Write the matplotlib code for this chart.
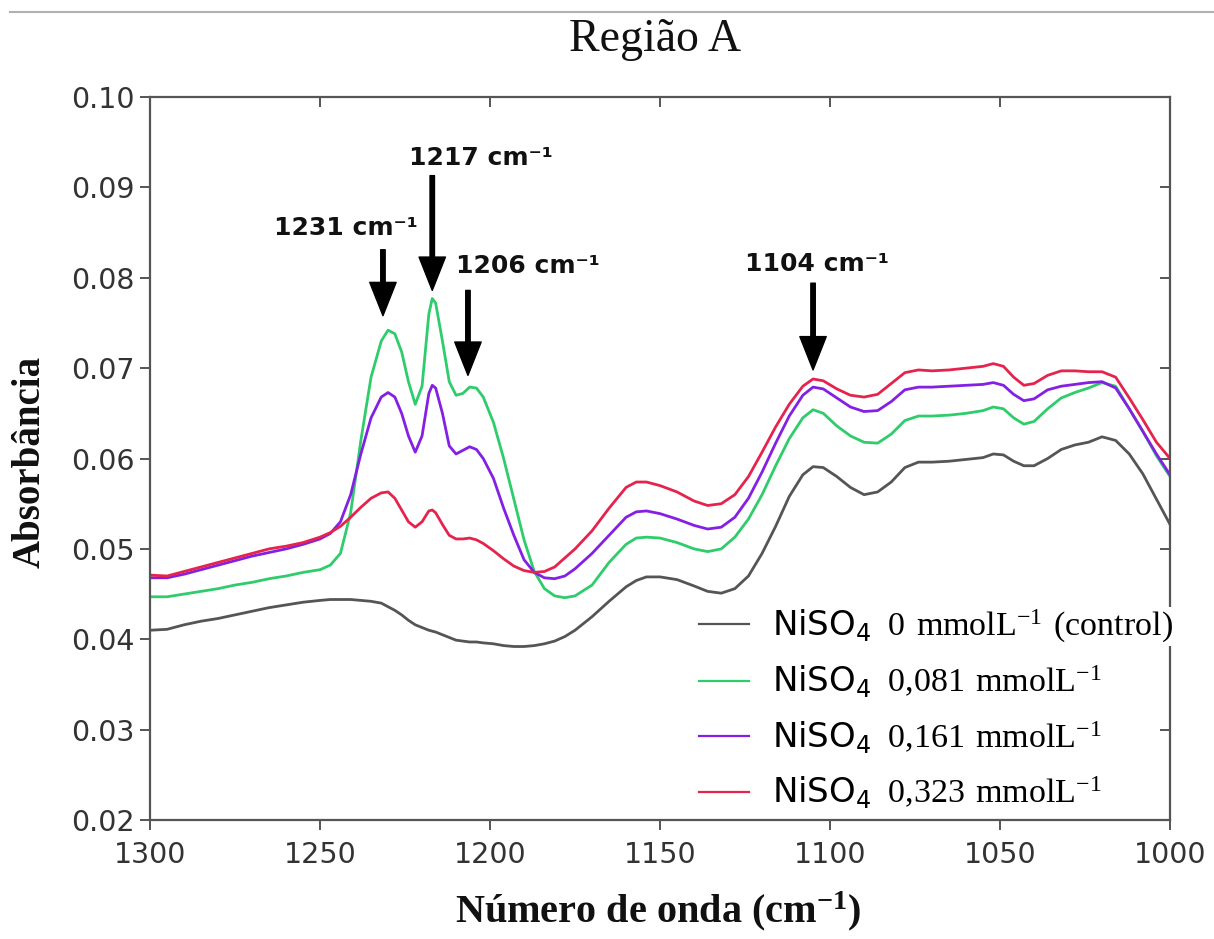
import matplotlib
matplotlib.use("Agg")
import matplotlib.pyplot as plt
from matplotlib.lines import Line2D

plt.rcParams["mathtext.fontset"] = "custom"
plt.rcParams["mathtext.rm"] = "Liberation Serif"
plt.rcParams["mathtext.default"] = "regular"

# wavenumber (cm-1)
wavenumber = [
    1300, 1295, 1290, 1285, 1280, 1275, 1270, 1265, 1260, 1255,
    1250, 1247, 1244, 1241, 1238, 1235, 1232, 1230, 1228, 1226,
    1224, 1222, 1220, 1218, 1217, 1216, 1214, 1212, 1210, 1208,
    1206, 1204, 1202, 1199, 1196, 1193, 1190, 1187, 1184, 1181,
    1178, 1175, 1170, 1165, 1160, 1157, 1154, 1150, 1145, 1140,
    1136, 1132, 1128, 1124, 1120, 1116, 1112, 1108, 1105, 1102,
    1098, 1094, 1090, 1086, 1082, 1078, 1074, 1070, 1065, 1060,
    1055, 1052, 1049, 1046, 1043, 1040, 1036, 1032, 1028, 1024,
    1020, 1016, 1012, 1008, 1004, 1000,
]

abs_control = [
    0.0410, 0.0411, 0.0416, 0.0420, 0.0423, 0.0427, 0.0431, 0.0435, 0.0438, 0.0441,
    0.0443, 0.0444, 0.0444, 0.0444, 0.0443, 0.0442, 0.0440, 0.0436, 0.0432, 0.0427,
    0.0421, 0.0416, 0.0413, 0.0410, 0.0409, 0.0408, 0.0405, 0.0402, 0.0399, 0.0398,
    0.0397, 0.0397, 0.0396, 0.0395, 0.0393, 0.0392, 0.0392, 0.0393, 0.0395, 0.0398,
    0.0403, 0.0410, 0.0425, 0.0442, 0.0458, 0.0465, 0.0469, 0.0469, 0.0466, 0.0459,
    0.0453, 0.0451, 0.0456, 0.0470, 0.0495, 0.0525, 0.0558, 0.0582, 0.0591, 0.0590,
    0.0580, 0.0568, 0.0560, 0.0563, 0.0574, 0.0590, 0.0596, 0.0596, 0.0597, 0.0599,
    0.0601, 0.0605, 0.0604, 0.0597, 0.0592, 0.0592, 0.0600, 0.0610, 0.0615, 0.0618,
    0.0624, 0.0620, 0.0605, 0.0583, 0.0555, 0.0527,
]

abs_0081 = [
    0.0447, 0.0447, 0.0450, 0.0453, 0.0456, 0.0460, 0.0463, 0.0467, 0.0470, 0.0474,
    0.0477, 0.0482, 0.0495, 0.0540, 0.0620, 0.0690, 0.0730, 0.0742, 0.0738, 0.0718,
    0.0685, 0.0660, 0.0680, 0.0760, 0.0777, 0.0772, 0.0730, 0.0685, 0.0670, 0.0672,
    0.0679, 0.0678, 0.0668, 0.0640, 0.0600, 0.0555, 0.0510, 0.0475, 0.0456, 0.0448,
    0.0446, 0.0448, 0.0460, 0.0485, 0.0505, 0.0512, 0.0513, 0.0512, 0.0507, 0.0500,
    0.0497, 0.0500, 0.0513, 0.0533, 0.0560, 0.0592, 0.0622, 0.0645, 0.0654, 0.0650,
    0.0636, 0.0625, 0.0618, 0.0617, 0.0627, 0.0642, 0.0647, 0.0647, 0.0648, 0.0650,
    0.0653, 0.0657, 0.0655, 0.0645, 0.0638, 0.0641, 0.0655, 0.0667, 0.0673, 0.0678,
    0.0684, 0.0680, 0.0655, 0.0630, 0.0603, 0.0580,
]

abs_0161 = [
    0.0468, 0.0468, 0.0472, 0.0477, 0.0482, 0.0487, 0.0492, 0.0496, 0.0500, 0.0505,
    0.0511, 0.0517, 0.0530, 0.0560, 0.0605, 0.0645, 0.0668, 0.0673, 0.0668, 0.0650,
    0.0625, 0.0607, 0.0625, 0.0672, 0.0681, 0.0678, 0.0650, 0.0614, 0.0605, 0.0609,
    0.0613, 0.0610, 0.0600, 0.0578, 0.0545, 0.0515, 0.0488, 0.0474, 0.0468, 0.0467,
    0.0470, 0.0478, 0.0495, 0.0515, 0.0535, 0.0541, 0.0542, 0.0539, 0.0533, 0.0526,
    0.0522, 0.0524, 0.0535, 0.0556, 0.0585, 0.0617, 0.0647, 0.0670, 0.0679, 0.0677,
    0.0667, 0.0657, 0.0652, 0.0653, 0.0663, 0.0676, 0.0679, 0.0679, 0.0680, 0.0681,
    0.0682, 0.0684, 0.0681, 0.0671, 0.0664, 0.0666, 0.0676, 0.0680, 0.0682, 0.0684,
    0.0685, 0.0678, 0.0655, 0.0630, 0.0605, 0.0582,
]

abs_0323 = [
    0.0471, 0.0470, 0.0475, 0.0480, 0.0485, 0.0490, 0.0495, 0.0500, 0.0503, 0.0507,
    0.0513, 0.0518, 0.0525, 0.0535, 0.0546, 0.0556, 0.0562, 0.0563, 0.0556, 0.0543,
    0.0530, 0.0524, 0.0530, 0.0542, 0.0543, 0.0540, 0.0527, 0.0515, 0.0511, 0.0511,
    0.0512, 0.0510, 0.0506, 0.0498, 0.0489, 0.0481, 0.0476, 0.0474, 0.0475, 0.0480,
    0.0490, 0.0500, 0.0520, 0.0545, 0.0568, 0.0574, 0.0574, 0.0570, 0.0563, 0.0553,
    0.0548, 0.0550, 0.0560, 0.0580, 0.0607, 0.0635, 0.0660, 0.0680, 0.0688, 0.0686,
    0.0677, 0.0670, 0.0668, 0.0671, 0.0683, 0.0695, 0.0698, 0.0697, 0.0698, 0.0700,
    0.0702, 0.0705, 0.0702, 0.0690, 0.0681, 0.0683, 0.0692, 0.0697, 0.0697, 0.0696,
    0.0696, 0.0690, 0.0667, 0.0643, 0.0618, 0.0600,
]

series_labels = [
    r"NiSO$_4$ $\mathrm{\,0\ mmolL^{-1}\ (control)}$",
    r"NiSO$_4$ $\mathrm{\,0{,}081\ mmolL^{-1}}$",
    r"NiSO$_4$ $\mathrm{\,0{,}161\ mmolL^{-1}}$",
    r"NiSO$_4$ $\mathrm{\,0{,}323\ mmolL^{-1}}$",
]
series_colors = ["#555555", "#2fcc6c", "#8420e4", "#e5234d"]

# peak markers
peak_labels = ["1231 cm⁻¹", "1217 cm⁻¹", "1206 cm⁻¹", "1104 cm⁻¹"]
peak_pos = [1231.5, 1217.0, 1206.5, 1105.0]
arrow_tail = [0.0831, 0.0913, 0.0786, 0.0794]
arrow_tip = [0.0758, 0.0786, 0.0692, 0.0698]
text_x = [1242.4, 1202.6, 1188.8, 1104.0]
text_y = [0.0855, 0.0933, 0.0813, 0.0815]

fig = plt.figure(figsize=(12.14, 9.39), dpi=100)
ax = fig.add_axes([0.1236, 0.1267, 0.8402, 0.77])

all_series = [abs_control, abs_0081, abs_0161, abs_0323]
for ys, lab, col in zip(all_series, series_labels, series_colors):
    ax.plot(wavenumber, ys, color=col, lw=2.0, label=lab)

for lab, xp, tail, tip, tx, ty in zip(peak_labels, peak_pos, arrow_tail, arrow_tip, text_x, text_y):
    ax.annotate("", xy=(xp, tip), xytext=(xp, tail),
                arrowprops=dict(facecolor="black", edgecolor="black", width=3.2,
                                headwidth=19, headlength=24, shrink=0))
    ax.text(tx, ty, lab, ha="center", va="center", fontsize=18,
            fontweight="bold", family="DejaVu Sans", color="#111111")

ax.set_xlim(1300, 1000)
ax.set_ylim(0.02, 0.10)
ax.set_xticks([1300, 1250, 1200, 1150, 1100, 1050, 1000])
ax.set_yticks([0.02, 0.03, 0.04, 0.05, 0.06, 0.07, 0.08, 0.09, 0.10])
ax.yaxis.set_major_formatter(matplotlib.ticker.FormatStrFormatter("%.2f"))

for sp in ax.spines.values():
    sp.set_color("#555555")
    sp.set_linewidth(1.6)
ax.tick_params(axis="both", which="major", direction="out", length=7, width=1.4,
               color="#555555", labelsize=20.5, labelcolor="#333333")
ax.tick_params(axis="x", pad=8)
ax.tick_params(axis="y", pad=4)
ax.tick_params(top=True, right=True, labeltop=False, labelright=False)
for t in ax.xaxis.get_ticklines()[1::2]:
    t.set_marker(matplotlib.lines.TICKDOWN)
for t in ax.yaxis.get_ticklines()[1::2]:
    t.set_marker(matplotlib.lines.TICKLEFT)

leg = ax.legend(loc="upper left", bbox_to_anchor=(0.525, 0.312), frameon=False,
                fontsize=24.5, handlelength=1.45, handletextpad=0.7, labelspacing=0.56,
                borderaxespad=0)
for line in leg.get_lines():
    line.set_linewidth(1.6)
leg.get_texts()[0].set_bbox(dict(facecolor="white", edgecolor="none", pad=1))
leg.set_zorder(6)

fig.text(0.540, 0.958, "Região A", ha="center", va="center",
         fontsize=33, family="Liberation Serif", color="#111111")
fig.text(0.025, 0.508, "Absorbância", rotation=90, ha="center", va="center",
         fontsize=28, fontweight="bold", family="Liberation Serif", color="#111111")
fig.text(0.542, 0.030, r"Número de onda (cm$^{-1}$)", ha="center", va="center",
         fontsize=29, fontweight="bold", family="Liberation Serif", color="#111111")

# thin page rule along the top
fig.add_artist(Line2D([0.008, 1.0], [0.987, 0.987], color="#b0b0b0", lw=1.5))

fig.savefig("out.png", dpi=100)
